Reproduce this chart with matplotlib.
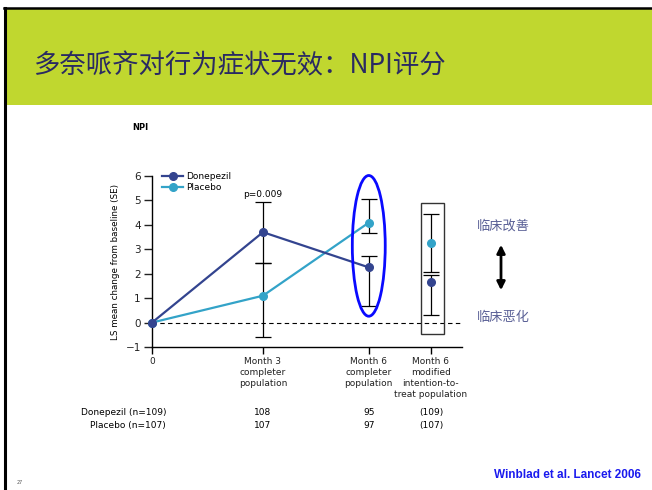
import matplotlib.pyplot as plt
from matplotlib.patches import Ellipse, Rectangle

plt.rcParams['font.family'] = ['DejaVu Sans']

# LS mean change in NPI from baseline (SE)
timepoints = [0, 3, 5.86]
mitt_x = 7.54
tick_labels = ['0', 'Month 3\ncompleter\npopulation', 'Month 6\ncompleter\npopulation',
               'Month 6\nmodified\nintention-to-\ntreat population']

donepezil = [0, 3.7, 2.26]
donepezil_lo = [0, 2.45, 0.67]
donepezil_hi = [0, 4.92, 2.73]
donepezil_mitt, donepezil_mitt_lo, donepezil_mitt_hi = 1.67, 0.31, 1.93

placebo = [0, 1.1, 4.09]
placebo_lo = [0, -0.6, 3.66]
placebo_hi = [0, 2.45, 5.05]
placebo_mitt, placebo_mitt_lo, placebo_mitt_hi = 3.24, 2.05, 4.44

n_donepezil = ['108', '95', '(109)']
n_placebo = ['107', '97', '(107)']

c_don = '#33448f'
c_pla = '#33a3c8'

W, H = 652, 490
fig = plt.figure(figsize=(W / 100, H / 100), dpi=100)

# slide background
bg = fig.add_axes([0, 0, 1, 1])
bg.set_xlim(0, W)
bg.set_ylim(H, 0)
bg.axis('off')
bg.add_patch(Rectangle((6, 9), W - 6, 96, color='#c0d72f', lw=0))
bg.plot([4, W], [8, 8], color='black', lw=1.8)
bg.plot([4.5, 4.5], [8, H], color='black', lw=2.2)
bg.text(33, 66, '多奈哌齐对行为症状无效：NPI评分', fontsize=19, color='#2a2a62',
        fontweight='medium', family=['Noto Sans CJK SC', 'DejaVu Sans'],
        va='center', ha='left')
bg.text(132, 127, 'NPI', fontsize=6, fontweight='bold', va='center')
bg.text(17, 482, '27', fontsize=3.5, color='#555555', va='center')
bg.text(641, 475, 'Winblad et al. Lancet 2006', fontsize=8.5, fontweight='bold',
        color='#1a1aee', family='Liberation Sans', ha='right', va='center')

# chart axes: x 0..8.38 over px 152..462, y -1..6 over px 347..176
x0, x1, ytop, ybot = 152, 462, 176, 347
ax = fig.add_axes([x0 / W, 1 - ybot / H, (x1 - x0) / W, (ybot - ytop) / H])
ax.set_xlim(0, 8.38)
ax.set_ylim(-1, 6)
for s in ['top', 'right']:
    ax.spines[s].set_visible(False)
for s in ['left', 'bottom']:
    ax.spines[s].set_linewidth(1.0)
ax.set_yticks(range(-1, 7))
ax.set_yticklabels(['\u22121', '0', '1', '2', '3', '4', '5', '6'])
ax.set_xticks(timepoints + [mitt_x])
ax.set_xticklabels(tick_labels, fontsize=6.5, linespacing=1.3, color='#222222')
ax.tick_params(axis='y', length=6, width=1, labelsize=7.5, pad=2, colors='#222222')
ax.tick_params(axis='x', length=5, width=1, pad=2)
ax.set_ylabel('LS mean change from baseline (SE)', fontsize=6.3, labelpad=4,
              family='Liberation Sans Narrow')

ax.axhline(0, color='black', lw=0.8, ls=(0, (4, 3)), zorder=1)

ek = dict(ecolor='black', elinewidth=0.9, capsize=5.5, capthick=0.9, clip_on=False)
xs = timepoints[1:]
ax.errorbar(xs, donepezil[1:], fmt='none',
            yerr=[[d - l for d, l in zip(donepezil[1:], donepezil_lo[1:])],
                  [h - d for d, h in zip(donepezil[1:], donepezil_hi[1:])]], zorder=2, **ek)
ax.errorbar(xs, placebo[1:], fmt='none',
            yerr=[[p - l for p, l in zip(placebo[1:], placebo_lo[1:])],
                  [h - p for p, h in zip(placebo[1:], placebo_hi[1:])]], zorder=2, **ek)
ax.errorbar([mitt_x], [donepezil_mitt], fmt='none',
            yerr=[[donepezil_mitt - donepezil_mitt_lo], [donepezil_mitt_hi - donepezil_mitt]],
            zorder=2, **ek)
ax.errorbar([mitt_x], [placebo_mitt], fmt='none',
            yerr=[[placebo_mitt - placebo_mitt_lo], [placebo_mitt_hi - placebo_mitt]],
            zorder=2, **ek)

ax.plot(timepoints, placebo, '-o', color=c_pla, lw=1.6, ms=5.5, label='Placebo',
        clip_on=False, zorder=3)
ax.plot(timepoints, donepezil, '-o', color=c_don, lw=1.6, ms=5.5, label='Donepezil',
        clip_on=False, zorder=4)
ax.plot([mitt_x], [placebo_mitt], 'o', color=c_pla, ms=5.5, zorder=3)
ax.plot([mitt_x], [donepezil_mitt], 'o', color=c_don, ms=5.5, zorder=4)

h, l = ax.get_legend_handles_labels()
ax.legend(h[::-1], l[::-1], loc='upper left', bbox_to_anchor=(0.02, 1.045), frameon=False,
          fontsize=6.5, handlelength=2.4, handletextpad=0.3, labelspacing=0.25,
          borderaxespad=0)

ax.text(3, 5.05, 'p=0.009', fontsize=6.5, ha='center', va='bottom')

# highlight of the month-6 completer result and the mITT result
ax.add_patch(Ellipse((timepoints[2], 3.14), 0.89, 5.76, fill=False, ec='#0a0aff', lw=2.0,
                     clip_on=False, zorder=5))
ax.add_patch(Rectangle((7.26, -0.46), 0.64, 5.37, fill=False, ec='#333333', lw=1.0,
                       clip_on=False, zorder=5))

# patient numbers under the x axis
row_y = [-3.68, -4.22]
ax.text(0.38, row_y[0], 'Donepezil (n=109)', fontsize=6.5, ha='right', va='center')
ax.text(0.38, row_y[1], 'Placebo (n=107)', fontsize=6.5, ha='right', va='center')
for x, a, b in zip(xs + [mitt_x], n_donepezil, n_placebo):
    ax.text(x, row_y[0], a, fontsize=6.5, ha='center', va='center', clip_on=False)
    ax.text(x, row_y[1], b, fontsize=6.5, ha='center', va='center', clip_on=False)

# clinical direction labels
cjk = ['Noto Sans CJK SC', 'DejaVu Sans']
bg.text(503, 226, '临床改善', fontsize=9.5, color='#5a6096', family=cjk, ha='center', va='center')
bg.text(503, 317, '临床恶化', fontsize=9.5, color='#5a6096', family=cjk, ha='center', va='center')
bg.annotate('', xy=(501, 242), xytext=(501, 293),
            arrowprops=dict(arrowstyle='<|-|>', color='black', lw=2, mutation_scale=12))

fig.savefig('out.png', dpi=100)
